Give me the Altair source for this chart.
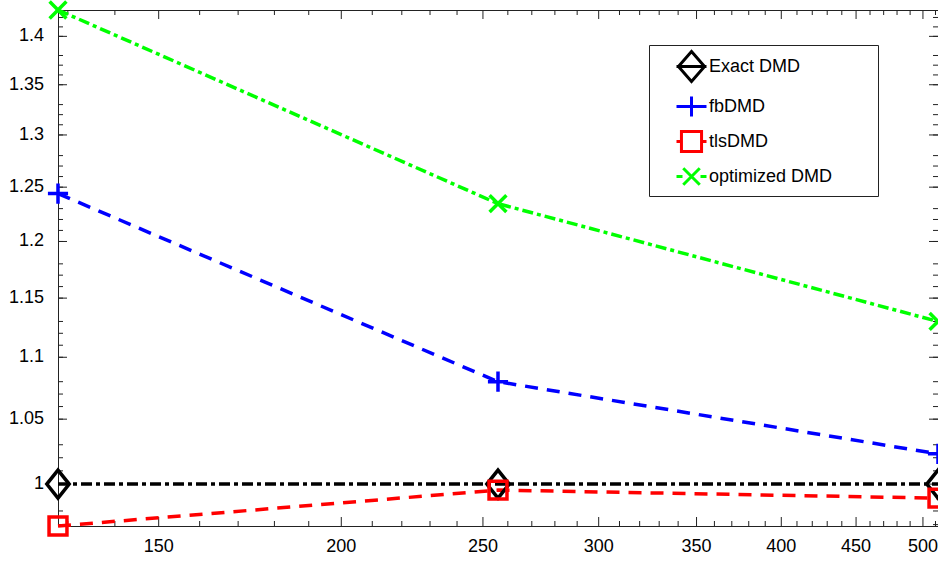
import altair as alt
import pandas as pd

# ---------------- data ----------------
x_values = [128, 256, 512]
series_names = ["Exact DMD", "fbDMD", "tlsDMD", "optimized DMD"]
exact_dmd = [1.0, 1.0, 1.0]
fb_dmd = [1.244, 1.080, 1.023]
tls_dmd = [0.969, 0.9955, 0.9895]
optimized_dmd = [1.428, 1.2346, 1.130]

x_major_ticks = [150, 200, 250, 300, 350, 400, 450, 500]
x_tick_labels = ["150", "200", "250", "300", "350", "400", "450", "500"]
x_minor_ticks = [v for v in range(130, 520, 10) if v % 50 != 0]
y_major_ticks = [1.0, 1.05, 1.1, 1.15, 1.2, 1.25, 1.3, 1.35, 1.4]
y_tick_labels = ["1", "1.05", "1.1", "1.15", "1.2", "1.25", "1.3", "1.35", "1.4"]
y_minor_ticks = [round(0.97 + 0.01 * i, 2) for i in range(46) if (i + 3) % 5 != 0]

series_colors = ["#000000", "#0000ff", "#ff0000", "#00ff00"]
series_dashes = [[11, 4, 4, 4], [13, 9], [13, 9], [11, 4, 4, 4]]
marker_paths = [
    "M0,-1L0.8,0L0,1L-0.8,0Z",
    "M-0.72,0H0.72M0,-0.72V0.72",
    "M-0.64,-0.64H0.64V0.64H-0.64Z",
    "M-0.6,-0.6L0.6,0.6M-0.6,0.6L0.6,-0.6",
]
legend_paths = [
    "M-1,0H1M0,-1L0.87,0L0,1L-0.87,0Z",
    "M-1,0H1M0,-0.67V0.67",
    "M-1,0H-0.67M0.67,0H1M-0.67,-0.67H0.67V0.67H-0.67Z",
    "M-1,0H-0.6M0.6,0H1M-0.55,-0.55L0.55,0.55M-0.55,0.55L0.55,-0.55",
]

rows = []
for name, vals in zip(series_names, [exact_dmd, fb_dmd, tls_dmd, optimized_dmd]):
    for xv, yv in zip(x_values, vals):
        rows.append({"n": xv, "value": yv, "series": name})
df = pd.DataFrame(rows)

all_vals = exact_dmd + fb_dmd + tls_dmd + optimized_dmd
y_domain = [min(all_vals), max(all_vals)]

W, H = 880, 516
FONT = "Liberation Sans"
LW = 3.5
TICK_COLOR = "#222"

xs = alt.Scale(type="log", domain=[min(x_values), max(x_values)], nice=False)
ys = alt.Scale(type="log", domain=y_domain, nice=False, zero=False)


def X(field="n"):
    return alt.X(f"{field}:Q", scale=xs, axis=None)


def Y(field="value"):
    return alt.Y(f"{field}:Q", scale=ys, axis=None)


# inward-pointing tick marks on all four sides, positioned through the scales
def x_tick_rules(values, length, side):
    d = pd.DataFrame({"n": values})
    if side == "bottom":
        ya, yb = alt.value(H), alt.value(H - length)
    else:
        ya, yb = alt.value(0), alt.value(length)
    return alt.Chart(d).mark_rule(color=TICK_COLOR, strokeWidth=1).encode(
        x=X("n"), y=ya, y2=yb
    )


def y_tick_rules(values, length, side):
    d = pd.DataFrame({"value": values})
    if side == "left":
        xa, xb = alt.value(0), alt.value(length)
    else:
        xa, xb = alt.value(W), alt.value(W - length)
    return alt.Chart(d).mark_rule(color=TICK_COLOR, strokeWidth=1).encode(
        y=Y("value"), x=xa, x2=xb
    )


tick_layers = [
    x_tick_rules(x_major_ticks, 9, "bottom"),
    x_tick_rules(x_minor_ticks, 5, "bottom"),
    x_tick_rules(x_major_ticks, 9, "top"),
    x_tick_rules(x_minor_ticks, 5, "top"),
    y_tick_rules(y_major_ticks, 9, "left"),
    y_tick_rules(y_minor_ticks, 5, "left"),
    y_tick_rules(y_major_ticks, 9, "right"),
    y_tick_rules(y_minor_ticks, 5, "right"),
]

# tick labels as text placed through the scales
x_label_layer = alt.Chart(pd.DataFrame({"n": x_major_ticks, "label": x_tick_labels})).mark_text(
    font=FONT, fontSize=18, color="black", align="center", baseline="top"
).encode(x=X("n"), y=alt.value(H + 12), text="label:N")

y_label_layer = alt.Chart(pd.DataFrame({"value": y_major_ticks, "label": y_tick_labels})).mark_text(
    font=FONT, fontSize=18, color="black", align="right", baseline="middle"
).encode(y=Y("value"), x=alt.value(-14), text="label:N")

color_scale = alt.Scale(domain=series_names, range=series_colors)

lines = alt.Chart(df).mark_line(strokeWidth=LW, clip=False).encode(
    x=X(), y=Y(),
    color=alt.Color("series:N", scale=color_scale, legend=None),
    strokeDash=alt.StrokeDash("series:N", scale=alt.Scale(domain=series_names, range=series_dashes), legend=None),
)

points = alt.Chart(df).mark_point(filled=False, strokeWidth=LW, size=784, opacity=1, clip=False).encode(
    x=X(), y=Y(),
    color=alt.Color("series:N", scale=color_scale, legend=None),
    shape=alt.Shape("series:N", scale=alt.Scale(domain=series_names, range=marker_paths), legend=None),
)

legend_def = alt.Legend(
    orient="none", legendX=591, legendY=35, title=None, padding=5,
    symbolOffset=21, labelOffset=1, rowPadding=2, labelFontSize=18,
    labelFont=FONT, labelColor="black", strokeColor="#222", fillColor="white",
    symbolSize=900, symbolStrokeWidth=3, labelLimit=0,
    labelExpr="datum.label + '" + " " * 8 + "\u200b'",
)

legend_layer = alt.Chart(df).transform_filter("false").mark_point(filled=False, strokeWidth=3, opacity=1).encode(
    x=X(), y=Y(),
    color=alt.Color("series:N", scale=color_scale, legend=legend_def),
    shape=alt.Shape("series:N", scale=alt.Scale(domain=series_names, range=legend_paths), legend=legend_def),
)

chart = alt.layer(
    *tick_layers, x_label_layer, y_label_layer, lines, points, legend_layer
).resolve_scale(
    color="independent", shape="independent", strokeDash="independent"
).properties(
    width=W, height=H,
    autosize=alt.AutoSizeParams(type="none"),
    padding={"left": 58, "top": 10, "right": 0, "bottom": 35},
).configure_view(stroke="#222", strokeWidth=1)

chart.save("out.html", embed_options={"renderer": "svg", "actions": False})
